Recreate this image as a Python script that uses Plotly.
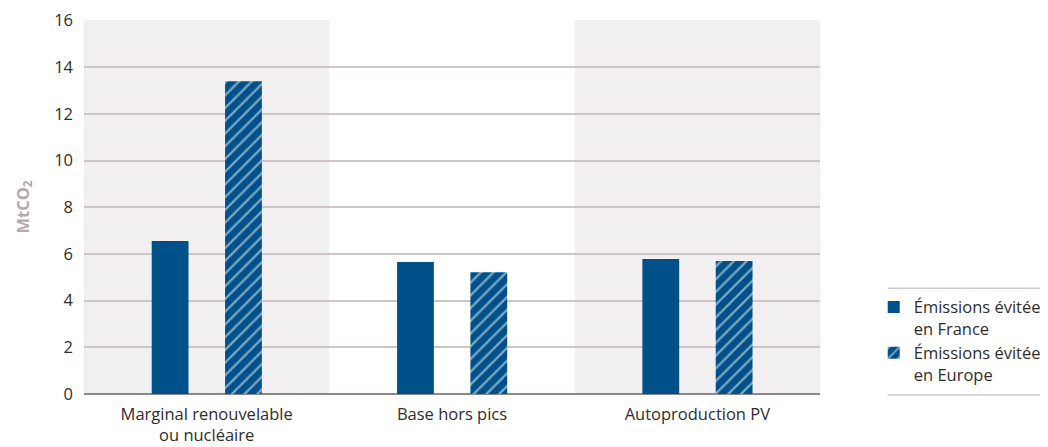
import plotly.graph_objects as go

categories = ["Marginal renouvelable<br>ou nucléaire", "Base hors pics", "Autoproduction PV"]
france = [6.55, 5.65, 5.78]
europe = [13.4, 5.22, 5.7]
series_names = ["Émissions évitées<br>en France", "Émissions évitées<br>en Europe"]
y_ticks = [0, 2, 4, 6, 8, 10, 12, 14, 16]

BLUE = "#00518A"
FONT = "Open Sans"
TXT = "#2E2E2E"
FS = 16.5

fig = go.Figure()
fig.add_trace(go.Bar(
    x=categories, y=france, name=series_names[0],
    marker=dict(color=BLUE, line=dict(width=0)),
    width=0.15, offset=-0.224,
))
fig.add_trace(go.Bar(
    x=categories, y=europe, name=series_names[1],
    marker=dict(color=BLUE, line=dict(width=0),
                pattern=dict(shape="/", fgcolor="white", bgcolor=BLUE, size=9, solidity=0.25)),
    width=0.15, offset=0.075,
))

# alternating shaded bands for category 1 and 3
for i in (0, 2):
    fig.add_shape(type="rect", xref="x", yref="paper", x0=i - 0.5, x1=i + 0.5, y0=0, y1=1,
                  fillcolor="#F2EFF0", line=dict(width=0), layer="below")

# legend separator lines
for yv in (0.283, -0.003):
    fig.add_shape(type="line", xref="paper", yref="paper", x0=1.092, x1=1.32, y0=yv, y1=yv,
                  line=dict(color="#D0CBCD", width=1.5))

fig.update_layout(
    width=1048, height=447,
    margin=dict(l=76, r=236, t=12, b=61, autoexpand=False),
    plot_bgcolor="white", paper_bgcolor="white",
    font=dict(family=FONT, size=FS, color=TXT),
    barmode="overlay",
    showlegend=True,
    legend=dict(x=1.073, xanchor="left", y=0.279, yanchor="top",
                font=dict(size=FS, color=TXT), valign="top",
                tracegroupgap=0, itemwidth=30, bgcolor="rgba(0,0,0,0)"),
    xaxis=dict(range=[-0.5, 2.5], showgrid=False, ticks="", tickfont=dict(size=FS),
               showline=False, zeroline=False, automargin=False, ticklabelstandoff=8),
    yaxis=dict(range=[0, 16.02], tickvals=y_ticks, showgrid=True, gridcolor="#CEC5C8", gridwidth=1.5,
               zeroline=True, zerolinecolor="#8E888A", zerolinewidth=2,
               ticks="", ticklen=0, tickfont=dict(size=FS), ticklabelstandoff=10,
               automargin=False,
               title=dict(text="MtCO<sub>2</sub>",
                          font=dict(size=16.5, color="#B3A8AC", weight="bold"),
                          standoff=20)),
)

fig.write_html("out.html")
